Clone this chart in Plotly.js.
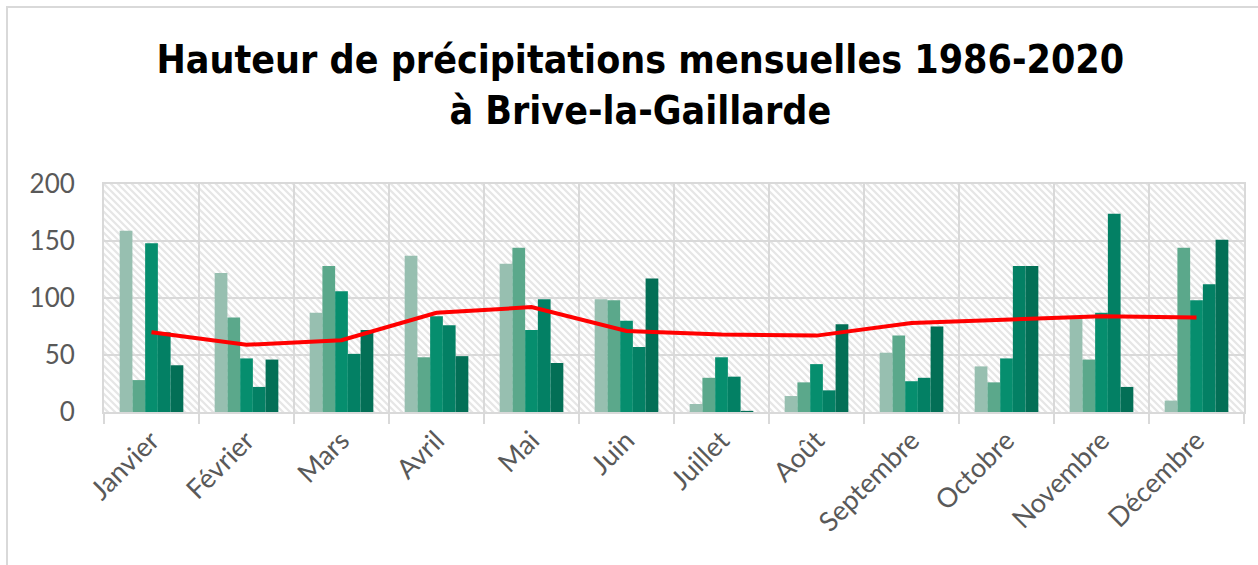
<!DOCTYPE html>
<html>
<head>
<meta charset="utf-8">
<script src="https://cdn.plot.ly/plotly-3.0.1.min.js"></script>
<style>
  html, body { margin: 0; padding: 0; background: #fff; }
  #chart { width: 1258px; height: 565px; }
  .frame {
    position: absolute; left: 6px; top: 6px; width: 1300px; height: 620px;
    border: 2px solid #d9d9d9; pointer-events: none;
  }
</style>
</head>
<body>
<div id="chart"></div>
<div class="frame"></div>
<script>
// Monthly rainfall (mm), Brive-la-Gaillarde
const months = ["Janvier", "Février", "Mars", "Avril", "Mai", "Juin",
                "Juillet", "Août", "Septembre", "Octobre", "Novembre", "Décembre"];

const period1 = [159, 122, 87, 137, 130, 99, 7, 14, 52, 40, 82, 10];
const period2 = [28, 83, 128, 48, 144, 98, 30, 26, 67, 26, 46, 144];
const period3 = [148, 47, 106, 84, 72, 80, 48, 42, 27, 47, 87, 98];
const period4 = [70, 22, 51, 76, 99, 57, 31, 19, 30, 128, 174, 112];
const period5 = [41, 46, 72, 49, 43, 117, 1, 77, 75, 128, 22, 151];
const average = [70, 59, 63, 87, 92, 71, 68, 67, 78, 81, 84, 83];

const seriesNames = ["Période 1", "Période 2", "Période 3", "Période 4", "Période 5"];
const seriesColors = ["#97bfb0", "#5ba88b", "#068e6e", "#038064", "#036f56"];

document.addEventListener("DOMContentLoaded", () => {
  const periods = [period1, period2, period3, period4, period5];

  const barTraces = periods.map((vals, i) => ({
    type: "bar",
    name: seriesNames[i],
    x: months,
    y: vals,
    marker: { color: seriesColors[i], line: { width: 0 } },
    hovertemplate: "%{x}: %{y} mm<extra>" + seriesNames[i] + "</extra>"
  }));

  const lineTrace = {
    type: "scatter",
    mode: "lines",
    name: "Moyenne",
    x: months,
    y: average,
    line: { color: "#ff0000", width: 4 }
  };

  // hatched plot background (Excel "wide downward diagonal")
  const hatchSvg =
    '<svg xmlns="http://www.w3.org/2000/svg" width="1140" height="228">' +
    '<defs><pattern id="h" width="7" height="7" patternUnits="userSpaceOnUse">' +
    '<rect width="7" height="7" fill="#ffffff"/>' +
    '<path d="M-2,-2 L9,9 M-2,5 L2,9 M5,-2 L9,2" stroke="#e6e6e6" stroke-width="2.2"/>' +
    '</pattern></defs>' +
    '<rect width="1140" height="228" fill="url(#h)"/></svg>';

  const axisFont = { family: "Lato, 'Open Sans', sans-serif", size: 26, color: "#595959" };

  const layout = {
    width: 1258,
    height: 565,
    margin: { l: 104, r: 14, t: 184, b: 153 },
    paper_bgcolor: "#ffffff",
    plot_bgcolor: "rgba(0,0,0,0)",
    showlegend: false,
    barmode: "group",
    bargap: 0.33,
    bargroupgap: 0,
    title: {
      text: "Hauteur de précipitations mensuelles 1986-2020<br>à Brive-la-Gaillarde",
      font: { family: "'DejaVu Sans Condensed', 'Liberation Sans Narrow', sans-serif",
              size: 39, color: "#000000", weight: "bold" },
      x: 0.509,
      xanchor: "center",
      y: 0.87,
      yanchor: "top"
    },
    xaxis: {
      type: "category",
      tickangle: -45,
      tickfont: { family: axisFont.family, size: 27, color: axisFont.color },
      tickson: "boundaries",
      ticks: "outside",
      ticklen: 10,
      tickwidth: 2,
      tickcolor: "#d9d9d9",
      showgrid: true,
      gridcolor: "#d9d9d9",
      gridwidth: 2,
      showline: true,
      linecolor: "#d9d9d9",
      linewidth: 2,
      mirror: true,
      fixedrange: true
    },
    yaxis: {
      range: [0, 200],
      dtick: 50,
      tickfont: axisFont,
      ticks: "",
      ticklabelstandoff: 22,
      showgrid: true,
      gridcolor: "#d9d9d9",
      gridwidth: 2,
      zeroline: false,
      showline: true,
      linecolor: "#d9d9d9",
      linewidth: 2,
      mirror: true,
      fixedrange: true
    },
    images: [{
      source: "data:image/svg+xml;charset=utf-8," + encodeURIComponent(hatchSvg),
      xref: "paper", yref: "paper",
      x: 0, y: 1, sizex: 1, sizey: 1,
      xanchor: "left", yanchor: "top",
      sizing: "stretch",
      layer: "below"
    }]
  };

  Plotly.newPlot("chart", [...barTraces, lineTrace], layout, { displayModeBar: false, staticPlot: true });
});
</script>
</body>
</html>
